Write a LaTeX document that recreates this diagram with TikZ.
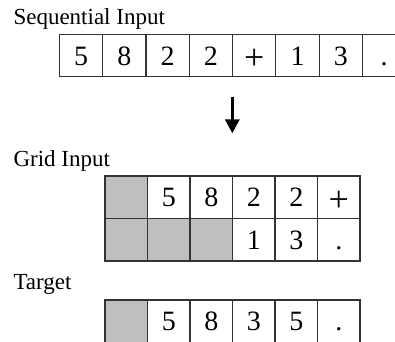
\documentclass[tikz,border=0pt]{standalone}
\usepackage{fontspec}
\newfontfamily\labelfont{Liberation Serif}
\newfontfamily\cellfont{Liberation Serif}
\usepackage{tikz}
\usetikzlibrary{arrows.meta}

\newcommand{\bigplus}{\raisebox{-4.5pt}{\fontsize{36}{36}\selectfont +}}

\tikzset{
  cell/.style={draw=black!80, line width=1.1pt, minimum width=43.3pt, minimum height=42pt,
    inner sep=0pt, text height=19pt, text depth=0pt, font=\cellfont\fontsize{28}{28}\selectfont},
  gridcell/.style={cell, minimum width=42.5pt, minimum height=42.5pt},
  blank/.style={gridcell, fill=gray!50},
  heading/.style={anchor=base west, inner sep=0pt, font=\labelfont\fontsize{23}{23}\selectfont}
}

\begin{document}
\begin{tikzpicture}[x=1pt,y=-1pt]
        \useasboundingbox (0,0) rectangle (395,341);
        % labels
        \node[heading] (seqlabel) at (13.3,24.5) {Sequential Input};
        \node[heading] (gridlabel) at (13.3,166.5) {Grid Input};
        \node[heading] (targetlabel) at (13.3,289.3) {Target};
        % routine for sequential cells
        \node[cell] (seq1) at (81.0,55.7) {5};
        \node[cell] (seq2) at (124.3,55.7) {8};
        \node[cell] (seq3) at (167.6,55.7) {2};
        \node[cell] (seq4) at (210.9,55.7) {2};
        \node[cell] (seq5) at (254.2,55.7) {\bigplus};
        \node[cell] (seq6) at (297.5,55.7) {1};
        \node[cell] (seq7) at (340.8,55.7) {3};
        \node[cell] (seq8) at (384.1,55.7) {.};
        % arrow
        \coordinate (arrowtop) at (232.3,96.7);
        \coordinate (arrowbot) at (232.3,133.3);
        \draw[line width=3.3pt,-{Triangle[width=14pt,length=14pt]}] (arrowtop)--(arrowbot);
        % routine for grid cells, first row
        \node[blank] (gridA1) at (126.25,197.25) {};
        \node[gridcell] (gridA2) at (168.75,197.25) {5};
        \node[gridcell] (gridA3) at (211.25,197.25) {8};
        \node[gridcell] (gridA4) at (253.75,197.25) {2};
        \node[gridcell] (gridA5) at (296.25,197.25) {2};
        \node[gridcell] (gridA6) at (338.75,197.25) {\bigplus};
        % second row
        \node[blank] (gridB1) at (126.25,239.75) {};
        \node[blank] (gridB2) at (168.75,239.75) {};
        \node[blank] (gridB3) at (211.25,239.75) {};
        \node[gridcell] (gridB4) at (253.75,239.75) {1};
        \node[gridcell] (gridB5) at (296.25,239.75) {3};
        \node[gridcell] (gridB6) at (338.75,239.75) {.};
        % routine for target cells
        \node[blank] (target1) at (126.25,321.25) {};
        \node[gridcell] (target2) at (168.75,321.25) {5};
        \node[gridcell] (target3) at (211.25,321.25) {8};
        \node[gridcell] (target4) at (253.75,321.25) {3};
        \node[gridcell] (target5) at (296.25,321.25) {5};
        \node[gridcell] (target6) at (338.75,321.25) {.};
      \end{tikzpicture}
\end{document}
